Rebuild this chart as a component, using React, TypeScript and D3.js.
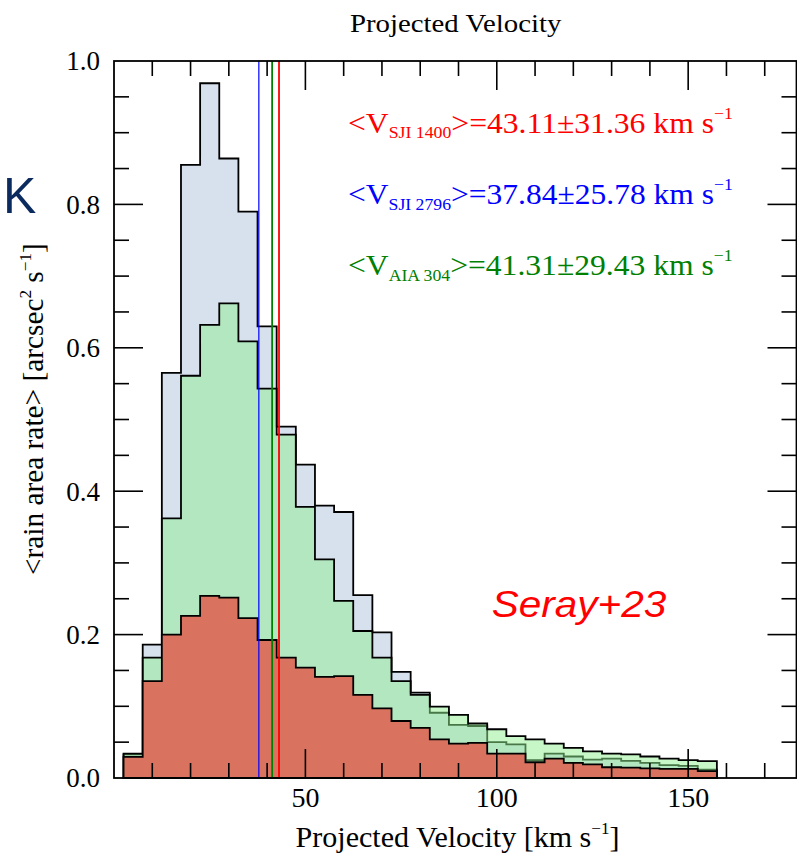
import React, { useRef, useState, useLayoutEffect } from "react";
import * as d3 from "d3";

// bin centres (km/s), bin width 5
const binCenters = [5,10,15,20,25,30,35,40,45,50,55,60,65,70,75,80,85,90,95,100,105,110,115,120,125,130,135,140,145,150,155];
const sji2796 = [0.033,0.186,0.565,0.855,0.969,0.864,0.790,0.630,0.490,0.437,0.380,0.371,0.255,0.203,0.148,0.119,0.091,0.074,0.0725,0.050,0.047,0.025,0.034,0.030,0.0255,0.027,0.024,0.021,0.018,0.017,0.0115];
const aia304 = [0.034,0.168,0.362,0.561,0.632,0.662,0.609,0.543,0.479,0.378,0.305,0.247,0.205,0.168,0.135,0.116,0.0995,0.088,0.076,0.068,0.0585,0.054,0.048,0.042,0.037,0.034,0.033,0.030,0.027,0.025,0.0235];
const sji1400 = [0.0295,0.135,0.200,0.226,0.254,0.2515,0.223,0.1925,0.168,0.154,0.141,0.142,0.116,0.097,0.0795,0.070,0.054,0.048,0.049,0.034,0.034,0.022,0.027,0.021,0.019,0.015,0.0144,0.0135,0.0126,0.0126,0.0095];

const meanNames = ["SJI 1400", "SJI 2796", "AIA 304"];
const meanValues = [43.11, 37.84, 41.31];
const meanErrors = [31.36, 25.78, 29.43];
const meanColors = ["#ff0000", "#0000ff", "#008000"];

const xMajorTicks = [50, 100, 150];
const yMajorTicks = [0, 0.2, 0.4, 0.6, 0.8, 1.0];

const BIN_W = 5;
const L = 114, R = 796.5, T = 61, B = 778;

function FitText({ x, y, width, anchor = "start", rotate = 0, children, ...rest }: any) {
  const ref = useRef<SVGTextElement>(null);
  const [s, setS] = useState(1);
  useLayoutEffect(() => {
    if (ref.current) {
      const w = ref.current.getBBox().width;
      if (w > 0) setS(width / w);
    }
  }, [width]);
  return (
    <text ref={ref} transform={`translate(${x},${y}) rotate(${rotate}) scale(${s},1)`} textAnchor={anchor} {...rest}>
      {children}
    </text>
  );
}

export default function App() {
  const x = d3.scaleLinear().domain([0, 178.3]).range([L, R]);
  const y = d3.scaleLinear().domain([0, 1]).range([B, T]);

  const histPath = (vals: number[]) => {
    const pts: [number, number][] = [];
    pts.push([binCenters[0] - BIN_W / 2, 0]);
    vals.forEach((v, i) => {
      pts.push([binCenters[i] - BIN_W / 2, v]);
      pts.push([binCenters[i] + BIN_W / 2, v]);
    });
    pts.push([binCenters[binCenters.length - 1] + BIN_W / 2, 0]);
    return d3.line<[number, number]>().x(d => x(d[0])).y(d => y(d[1]))(pts) + "Z";
  };

  const xMinor = d3.range(10, 180, 10);
  const yMinor = d3.range(0.05, 1.0, 0.05);
  const serif = "Liberation Serif, Times New Roman, Times, serif";

  return (
    <svg width={797} height={853} style={{ position: "absolute", left: 0, top: 0, background: "#fff" }}>
      <FitText x={350} y={31.7} width={212} fontFamily={serif} fontSize={25} fill="#000">Projected Velocity</FitText>

      <path d={histPath(sji2796)} fill="#b0c4de" fillOpacity={0.5} stroke="#000" strokeWidth={1.8} />
      <path d={histPath(aia304)} fill="#90ee90" fillOpacity={0.5} stroke="#000" strokeWidth={1.8} />
      <path d={histPath(sji1400)} fill="#d9735f" stroke="#000" strokeWidth={1.8} />

      {meanValues.map((m, i) => (
        <line key={i} x1={x(m)} x2={x(m)} y1={T} y2={B} stroke={meanColors[i]} strokeWidth={i === 1 ? 1.2 : 1.8} />
      ))}

      {xMinor.map(t => {
        const major = t % 50 === 0;
        const len = major ? 29 : 15;
        return (
          <g key={"x" + t}>
            <line x1={x(t)} x2={x(t)} y1={B} y2={B - len} stroke="#000" strokeWidth={1.6} />
            <line x1={x(t)} x2={x(t)} y1={T} y2={T + len} stroke="#000" strokeWidth={1.6} />
          </g>
        );
      })}
      {yMinor.map((t, i) => {
        const major = (i + 1) % 4 === 0;
        const len = major ? 29 : 15;
        return (
          <g key={"y" + i}>
            <line x1={L} x2={L + len} y1={y(t)} y2={y(t)} stroke="#000" strokeWidth={1.6} />
            <line x1={R} x2={R - len} y1={y(t)} y2={y(t)} stroke="#000" strokeWidth={1.6} />
          </g>
        );
      })}
      <rect x={L} y={T} width={R - L} height={B - T} fill="none" stroke="#000" strokeWidth={1.8} />

      {xMajorTicks.map(t => (
        <text key={"xl" + t} x={x(t)} y={807} textAnchor="middle" fontFamily={serif} fontSize={28} fill="#000">{t}</text>
      ))}
      {yMajorTicks.map(t => (
        <text key={"yl" + t} x={100} y={y(t)} dy="0.35em" textAnchor="end" fontFamily={serif} fontSize={27} fill="#000">{t.toFixed(1)}</text>
      ))}

      <FitText x={295.6} y={847} width={324} fontFamily={serif} fontSize={30} fill="#000">
        Projected Velocity [km s<tspan dy={-13} fontSize={17}>−1</tspan><tspan dy={13} fontSize={30}>]</tspan>
      </FitText>

      <FitText x={43.3} y={575} width={332} rotate={-90} fontFamily={serif} fontSize={29} fill="#000">
        {"<rain area rate> [arcsec"}<tspan dy={-12} fontSize={17}>2</tspan><tspan dy={12} fontSize={29}> s</tspan><tspan dy={-12} fontSize={17}>−1</tspan><tspan dy={12} fontSize={29}>]</tspan>
      </FitText>

      {meanNames.map((n, i) => (
        <FitText key={"m" + i} x={348} y={132.7 + i * 71.2} width={385} fontFamily={serif} fontSize={28.5} fill={meanColors[i]}>
          {"<V"}<tspan dy={5.6} fontSize={16}>{n}</tspan><tspan dy={-5.6} fontSize={28.5}>{`>=${meanValues[i].toFixed(2)}±${meanErrors[i].toFixed(2)} km s`}</tspan><tspan dy={-14} fontSize={16}>−1</tspan>
        </FitText>
      ))}

      <FitText x={491.7} y={616.7} width={175} fontFamily="Liberation Sans, Arial, sans-serif" fontStyle="italic" fontSize={37} fill="#ff0000">Seray+23</FitText>
      <text x={3} y={213} fontFamily="Liberation Sans, Arial, sans-serif" fontSize={50} fill="#0b2a5e">K</text>
    </svg>
  );
}
